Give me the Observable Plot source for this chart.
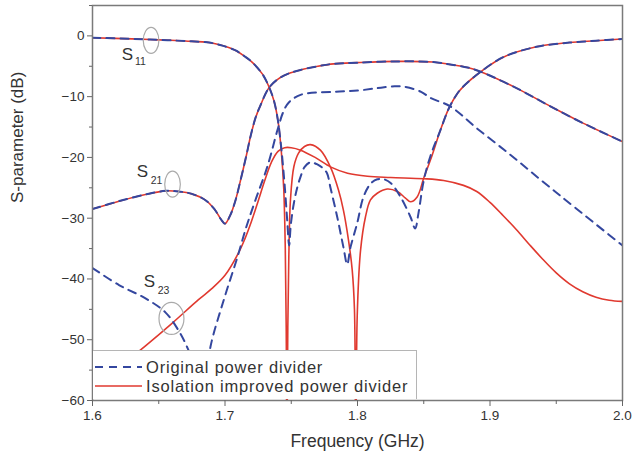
<!DOCTYPE html>
<html>
<head>
<meta charset="utf-8">
<script src="https://cdn.jsdelivr.net/npm/d3@7"></script>
<script src="https://cdn.jsdelivr.net/npm/@observablehq/plot@0.6"></script>
<style>
  html, body { margin: 0; padding: 0; background: #fff; }
  #wrap { position: relative; width: 643px; height: 464px; font-family: "Liberation Sans", Arial, sans-serif; }
  #legend { position: absolute; left: 93px; top: 350px; width: 324px; height: 49px; background: #fff;
            border-top: 1px solid #b5b5b5; border-right: 1px solid #b5b5b5; box-sizing: border-box; }
  #legend .row { position: absolute; left: 0; height: 18px; display: flex; align-items: center; }
  #legend .row span { font-size: 16.5px; line-height: 18px; color: #333; margin-left: 1px; white-space: nowrap; letter-spacing: 0.8px; }
</style>
</head>
<body>
<div id="wrap"></div>
<script>
// ---------- data ----------
const xTicks = [1.6, 1.7, 1.8, 1.9, 2.0];
const xMinorTicks = [1.65, 1.75, 1.85, 1.95];
const yTicks = [0, -10, -20, -30, -40, -50, -60];
const yMinorTicks = [5, -5, -15, -25, -35, -45, -55];

// S11, isolation improved divider (red)
const s11ImpF  = [1.600,1.630,1.650,1.670,1.688,1.698,1.708,1.715,1.7208,1.7283,1.7334,1.7371,1.7400,1.7425,1.7443,1.7455,1.7462,1.7467,1.7474,1.7482,1.7494,1.7520,1.7555,1.7600,1.7645,1.7720,1.7796,1.7857,1.7894,1.7932,1.7960,1.7977,1.7987,1.7998,1.8023,1.8060,1.8098,1.8149,1.8224,1.8300,1.8362,1.8400,1.8450,1.8500,1.8564,1.8626,1.8690,1.8750,1.8800,1.8930,1.9100,1.9350,1.9600,1.9800,2.0000];
const s11ImpDb = [-0.3,-0.5,-0.66,-0.85,-1.1,-1.6,-2.4,-3.4,-4.4,-6.3,-8.5,-10.8,-14.0,-19.0,-25.0,-35,-48,-70,-48,-36,-27,-21.5,-19.3,-18.2,-17.9,-18.8,-21.6,-25.4,-28.7,-33.6,-38.5,-45,-70,-46,-35.3,-29.8,-27.0,-25.9,-25.2,-25.6,-26.7,-27.3,-26.5,-23.4,-19.6,-15.5,-11.9,-9.6,-8.3,-5.9,-3.5,-1.8,-1.1,-0.8,-0.5];

// S11, original divider (blue dashed)
const s11OrgF  = [1.600,1.630,1.650,1.670,1.688,1.698,1.708,1.715,1.7208,1.7283,1.7334,1.7371,1.7400,1.7425,1.7450,1.7470,1.7484,1.7497,1.7520,1.7545,1.7570,1.7600,1.7645,1.7700,1.7740,1.7770,1.7796,1.7847,1.7894,1.7922,1.7947,1.7998,1.8045,1.8100,1.8150,1.8200,1.8250,1.8325,1.8400,1.8435,1.8460,1.8500,1.8550,1.8626,1.8690,1.8750,1.8800,1.8930,1.9100,1.9350,1.9600,1.9800,2.0000];
const s11OrgDb = [-0.3,-0.5,-0.66,-0.85,-1.1,-1.6,-2.4,-3.4,-4.4,-6.3,-8.5,-10.8,-14.0,-18.5,-24.5,-30.5,-34.5,-31,-27.5,-25,-23.2,-21.6,-20.8,-21.2,-21.8,-22.6,-25.0,-29.8,-34.8,-37.6,-34.8,-30.8,-26.5,-24.3,-23.6,-23.6,-24.2,-26.5,-29.8,-31.7,-29.2,-23.8,-19.8,-15.5,-11.9,-9.6,-8.3,-5.9,-3.5,-1.8,-1.1,-0.8,-0.5];

// S21 (both dividers coincide)
const s21F  = [1.600,1.620,1.640,1.655,1.665,1.675,1.685,1.692,1.697,1.700,1.704,1.708,1.712,1.716,1.7192,1.723,1.727,1.733,1.740,1.748,1.757,1.770,1.782,1.800,1.830,1.857,1.870,1.883,1.893,1.920,1.9456,1.9706,2.000];
const s21Db = [-28.5,-27.2,-26.1,-25.5,-25.6,-26.0,-27.0,-28.5,-30.2,-30.9,-29.5,-27.0,-23.5,-19.8,-16.6,-13.5,-11.3,-8.6,-7.1,-6.2,-5.6,-5.0,-4.6,-4.4,-4.2,-4.3,-4.7,-5.2,-5.9,-8.6,-11.6,-14.4,-17.4];

// S23, original divider (blue dashed)
const s23OrgF  = [1.600,1.620,1.640,1.655,1.665,1.672,1.678,1.683,1.6865,1.689,1.699,1.7094,1.716,1.723,1.732,1.7396,1.744,1.748,1.757,1.782,1.800,1.815,1.828,1.836,1.848,1.855,1.870,1.890,1.915,1.940,1.965,2.000];
const s23OrgDb = [-38.2,-41.0,-43.2,-45.5,-48.5,-51.5,-55.0,-59.0,-56.0,-51.2,-43.5,-36.4,-31.5,-27.0,-21.5,-15.5,-12.5,-11.0,-9.7,-9.2,-9.0,-8.6,-8.3,-8.4,-9.2,-10.2,-11.6,-15.2,-19.5,-24.0,-28.4,-34.5];

// S23, isolation improved divider (red)
const s23ImpF  = [1.620,1.640,1.660,1.680,1.690,1.700,1.710,1.715,1.720,1.725,1.730,1.735,1.740,1.745,1.750,1.757,1.768,1.780,1.7925,1.8075,1.825,1.850,1.865,1.880,1.890,1.900,1.910,1.920,1.930,1.940,1.950,1.960,1.970,1.980,1.990,2.000];
const s23ImpDb = [-54.5,-51.0,-47.3,-43.4,-41.6,-39.4,-35.8,-33.4,-30.5,-27.2,-23.8,-20.8,-19.0,-18.4,-18.4,-18.8,-20.0,-21.6,-22.6,-23.1,-23.3,-23.5,-23.8,-24.6,-25.6,-27.4,-29.6,-31.9,-34.4,-36.8,-39.0,-40.8,-42.1,-43.0,-43.5,-43.7];

// curve labels
const labelMain = ["S", "S", "S"];
const labelMainF = [1.6264, 1.6377, 1.6430];
const labelMainDb = [-3.1, -22.4, -40.5];
const labelSub = ["11", "21", "23"];
const labelSubF = [1.6362, 1.6483, 1.6536];
const labelSubDb = [-4.3, -23.9, -41.9];
const markerF = [1.6442, 1.6604, 1.6596];
const markerDb = [-0.74, -24.4, -46.5];

const legendLabels = ["Original power divider", "Isolation improved power divider"];

// ---------- build tables ----------
const rows = (name, F, D) => F.map((f, i) => ({series: name, f, db: D[i]}));
const redRows = [
  ...rows("S11 improved", s11ImpF, s11ImpDb),
  ...rows("S21 improved", s21F, s21Db),
  ...rows("S23 improved", s23ImpF, s23ImpDb)
];
const blueRows = [
  ...rows("S11 original", s11OrgF, s11OrgDb),
  ...rows("S21 original", s21F, s21Db),
  ...rows("S23 original", s23OrgF, s23OrgDb)
];
const mains = labelMain.map((t, i) => ({t, f: labelMainF[i], db: labelMainDb[i]}));
const subs = labelSub.map((t, i) => ({t, f: labelSubF[i], db: labelSubDb[i]}));
const markers = markerF.map((f, i) => ({f, db: markerDb[i]}));

const RED = "#e0392f";
const BLUE = "#34479f";
const INK = "#333";

function ellipse(ratio) {
  return {
    draw(ctx, size) {
      const r = Math.sqrt(size / Math.PI);
      const rx = r * ratio, ry = r, k = 0.5523;
      ctx.moveTo(rx, 0);
      ctx.bezierCurveTo(rx, ry * k, rx * k, ry, 0, ry);
      ctx.bezierCurveTo(-rx * k, ry, -rx, ry * k, -rx, 0);
      ctx.bezierCurveTo(-rx, -ry * k, -rx * k, -ry, 0, -ry);
      ctx.bezierCurveTo(rx * k, -ry, rx, -ry * k, rx, 0);
      ctx.closePath();
    }
  };
}

const chart = Plot.plot({
  width: 643,
  height: 464,
  marginTop: 5,
  marginRight: 21,
  marginBottom: 64,
  marginLeft: 92,
  style: {fontFamily: '"Liberation Sans", Arial, sans-serif', background: "#fff", color: INK},
  x: {domain: [1.6, 2.0]},
  y: {domain: [-60, 5]},
  marks: [
    Plot.line(redRows, {x: "f", y: "db", z: "series", stroke: RED, strokeWidth: 1.6, curve: "catmull-rom", clip: true}),
    Plot.line(blueRows, {x: "f", y: "db", z: "series", stroke: BLUE, strokeWidth: 2, strokeDasharray: "8,6", curve: "catmull-rom", clip: true}),
    Plot.dot(markers.slice(0, 2), {x: "f", y: "db", r: 13, symbol: ellipse(0.6), stroke: "#aaa", strokeWidth: 1.2, fill: "none"}),
    Plot.dot(markers.slice(2), {x: "f", y: "db", r: 16, symbol: ellipse(0.78), stroke: "#aaa", strokeWidth: 1.2, fill: "none"}),
    Plot.text(mains, {x: "f", y: "db", text: "t", fontSize: 17, fill: INK}),
    Plot.text(subs, {x: "f", y: "db", text: "t", fontSize: 10.5, fill: INK}),
    Plot.frame({stroke: "#7a7a7a", strokeWidth: 1.5}),
    Plot.axisX({ticks: xTicks, tickFormat: d3.format(".1f"), tickSize: 6, tickPadding: 4, fontSize: 13.5, stroke: "#666", fill: INK, label: null}),
    Plot.axisX({ticks: xMinorTicks, tickFormat: () => "", tickSize: 4, stroke: "#666", label: null}),
    Plot.axisY({ticks: yTicks, tickFormat: d3.format("d"), tickSize: 5, tickPadding: 3, fontSize: 13.5, stroke: "#666", fill: INK, label: null}),
    Plot.axisY({ticks: yMinorTicks, tickFormat: () => "", tickSize: 3, stroke: "#666", label: null}),
    Plot.text(["Frequency (GHz)"], {frameAnchor: "bottom", dy: 46, fontSize: 17.5, fill: INK}),
    Plot.text(["S-parameter (dB)"], {frameAnchor: "left", dx: -75, rotate: -90, fontSize: 17, fill: INK})
  ]
});

const wrap = document.getElementById("wrap");
wrap.appendChild(chart);

// legend inside the plot (bottom-left)
const legend = document.createElement("div");
legend.id = "legend";
const styles = [{stroke: BLUE, dash: "8,6", width: 2}, {stroke: RED, dash: null, width: 1.6}];
legendLabels.forEach((label, i) => {
  const row = document.createElement("div");
  row.className = "row";
  row.style.top = (7 + i * 19) + "px";
  const s = styles[i];
  row.innerHTML = `<svg width="52" height="18"><line x1="2" x2="49" y1="9" y2="9" stroke="${s.stroke}" stroke-width="${s.width}" ${s.dash ? `stroke-dasharray="${s.dash}"` : ""}/></svg><span>${label}</span>`;
  legend.appendChild(row);
});
wrap.appendChild(legend);
</script>
</body>
</html>
